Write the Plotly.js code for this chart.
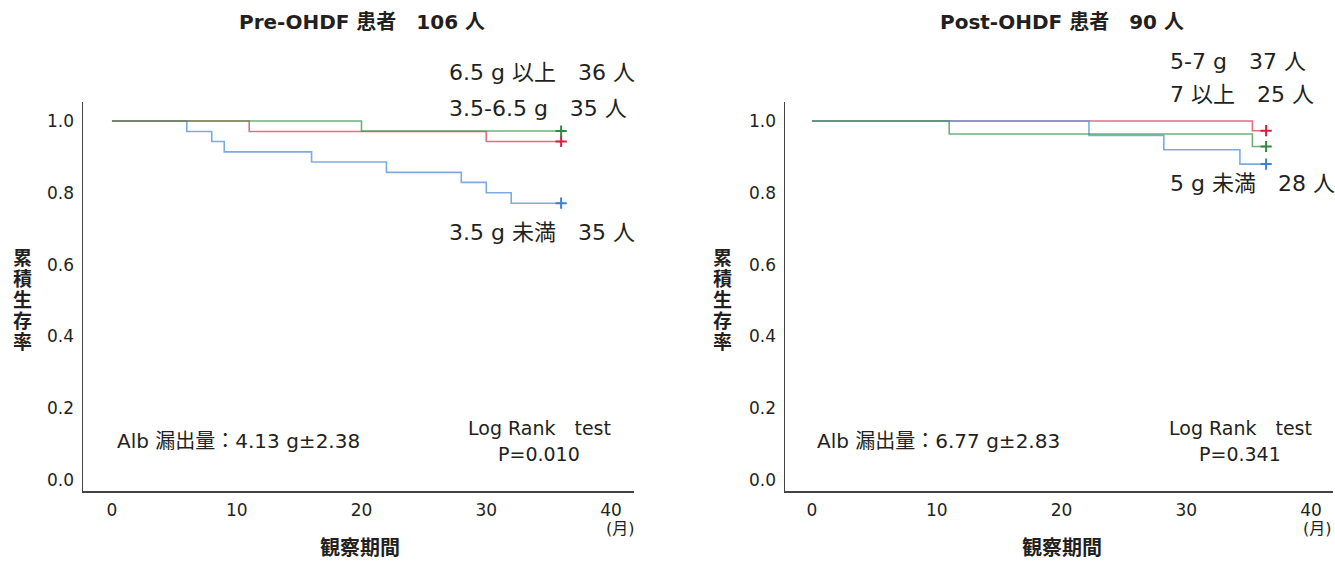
<!DOCTYPE html>
<html>
<head>
<meta charset="utf-8">
<script src="https://cdn.plot.ly/plotly-3.0.1.min.js"></script>
<style>html,body{margin:0;padding:0;background:#fff;}#chart{width:1335px;height:562px;}</style>
</head>
<body>
<div id="chart"></div>
<script>
// ---- Data ----
// Pre-OHDF (left panel), time in months, cumulative survival
const preLowT   = [0, 6, 8, 9, 16, 22, 28, 30, 32, 36];
const preLowS   = [1.0, 0.971, 0.943, 0.914, 0.886, 0.857, 0.829, 0.800, 0.771, 0.771];
const preMidT   = [0, 11, 30, 36];
const preMidS   = [1.0, 0.971, 0.943, 0.943];
const preHighT  = [0, 20, 36];
const preHighS  = [1.0, 0.972, 0.972];

// Post-OHDF (right panel)
const postBlueT  = [0, 22.2, 28.2, 34.3, 36.4];
const postBlueS  = [1.0, 0.96, 0.92, 0.88, 0.88];
const postRedT   = [0, 35.3, 36.4];
const postRedS   = [1.0, 0.973, 0.973];
const postGreenT = [0, 11, 35.3, 36.4];
const postGreenS = [1.0, 0.964, 0.929, 0.929];

const xTicks = [0, 10, 20, 30, 40];
const yTicks = [0, 0.2, 0.4, 0.6, 0.8, 1.0];
const yTickText = ['0.0', '0.2', '0.4', '0.6', '0.8', '1.0'];

const preTitle  = 'Pre-OHDF 患者　106 人';
const postTitle = 'Post-OHDF 患者　90 人';
const preLabels  = ['6.5 g 以上　36 人', '3.5-6.5 g　35 人', '3.5 g 未満　35 人'];
const postLabels = ['5-7 g　37 人', '7 以上　25 人', '5 g 未満　28 人'];
const preAlb  = 'Alb 漏出量：4.13 g±2.38';
const postAlb = 'Alb 漏出量：6.77 g±2.83';
const preP  = 'P=0.010';
const postP = 'P=0.341';
const logRank = 'Log Rank　test';
const xTitle = '観察期間';
const yTitle = '累積生存率';
const unit = '(月)';

// ---- Styles ----
const FONT = '"DejaVu Sans", "Noto Sans CJK JP", sans-serif';
const TXT = '#231f20';
const LINE = {blue: 'rgba(90,150,220,0.8)', red: 'rgba(220,60,90,0.75)', green: 'rgba(60,150,75,0.75)'};
const MARK = {blue: '#3a80d6', red: '#d61e40', green: '#2e8a3c'};

function km(t, s, color, xa, ya) {
  return {x: t, y: s, type: 'scatter', mode: 'lines', line: {shape: 'hv', color: LINE[color], width: 1.6},
          xaxis: xa, yaxis: ya, hoverinfo: 'skip', showlegend: false};
}
function censor(t, s, color, xa, ya) {
  return {x: [t[t.length - 1]], y: [s[s.length - 1]], type: 'scatter', mode: 'markers',
          marker: {symbol: 'cross-thin', size: 8, line: {color: MARK[color], width: 2}},
          xaxis: xa, yaxis: ya, hoverinfo: 'skip', showlegend: false};
}

const data = [
  km(preLowT, preLowS, 'blue', 'x', 'y'),
  km(preMidT, preMidS, 'red', 'x', 'y'),
  km(preHighT, preHighS, 'green', 'x', 'y'),
  censor(preLowT, preLowS, 'blue', 'x', 'y'),
  censor(preMidT, preMidS, 'red', 'x', 'y'),
  censor(preHighT, preHighS, 'green', 'x', 'y'),
  km(postRedT, postRedS, 'red', 'x2', 'y2'),
  km(postBlueT, postBlueS, 'blue', 'x2', 'y2'),
  km(postGreenT, postGreenS, 'green', 'x2', 'y2'),
  censor(postBlueT, postBlueS, 'blue', 'x2', 'y2'),
  censor(postGreenT, postGreenS, 'green', 'x2', 'y2'),
  censor(postRedT, postRedS, 'red', 'x2', 'y2')
];

const W = 1335, H = 562;
function ann(text, px, py, size, opts) {
  return Object.assign({text: text, x: px / W, y: 1 - py / H, xref: 'paper', yref: 'paper',
    showarrow: false, xanchor: 'center', yanchor: 'middle',
    font: {family: FONT, size: size, color: TXT}}, opts || {});
}
function verticalTitle(cx, cy) {
  const chars = yTitle.split('');
  const step = 21;
  const y0 = cy - step * (chars.length - 1) / 2;
  return chars.map((c, i) => ann('<b>' + c + '</b>', cx, y0 + i * step, 19));
}

const annotations = [
  ann('<b>' + preTitle + '</b>', 362, 22, 20),
  ann(preLabels[0], 447, 73, 22, {xanchor: 'left'}),
  ann(preLabels[1], 447, 108, 22, {xanchor: 'left'}),
  ann(preLabels[2], 447, 232, 22, {xanchor: 'left'}),
  ann(preAlb, 115, 441, 20, {xanchor: 'left'}),
  ann(logRank, 539, 428, 19),
  ann(preP, 539, 454, 19),
  ann(unit, 637, 528, 16, {xanchor: 'right'}),
  ann('<b>' + xTitle + '</b>', 360, 548, 20),

  ann('<b>' + postTitle + '</b>', 1062, 22, 20),
  ann(postLabels[0], 1168, 62, 22, {xanchor: 'left'}),
  ann(postLabels[1], 1168, 94, 22, {xanchor: 'left'}),
  ann(postLabels[2], 1168, 183, 22, {xanchor: 'left'}),
  ann(postAlb, 815, 441, 20, {xanchor: 'left'}),
  ann(logRank, 1240, 428, 19),
  ann(postP, 1240, 454, 19),
  ann(unit, 1334, 528, 16, {xanchor: 'right'}),
  ann('<b>' + xTitle + '</b>', 1062, 548, 20)
].concat(verticalTitle(22, 300), verticalTitle(722, 300));

function xaxis(domain, range, anchor) {
  return {domain: domain, range: range, anchor: anchor, tickvals: xTicks, showgrid: false, zeroline: false,
          showline: true, linecolor: '#444', linewidth: 1.5, ticks: '', fixedrange: true,
          ticklabelstandoff: 3, tickfont: {family: FONT, size: 17, color: TXT}};
}
function yaxis(domain, anchor) {
  return {domain: domain, range: [-0.031, 1.053], anchor: anchor, tickvals: yTicks, ticktext: yTickText,
          showgrid: false, zeroline: false, showline: true, linecolor: '#444', linewidth: 1.5, ticks: '',
          fixedrange: true, ticklabelstandoff: 4, tickfont: {family: FONT, size: 17, color: TXT}};
}
const yDom = [1 - 491 / H, 1 - 102 / H];

const layout = {
  width: W, height: H,
  margin: {l: 0, r: 0, t: 0, b: 0},
  paper_bgcolor: '#fff', plot_bgcolor: '#fff',
  showlegend: false,
  xaxis: xaxis([83 / W, 634 / W], [-2.32, 41.84], 'y'),
  yaxis: yaxis(yDom, 'x'),
  xaxis2: xaxis([785 / W, 1333 / W], [-2.16, 41.76], 'y2'),
  yaxis2: yaxis(yDom, 'x2'),
  annotations: annotations
};

Plotly.newPlot('chart', data, layout, {displayModeBar: false, staticPlot: true});
</script>
</body>
</html>
